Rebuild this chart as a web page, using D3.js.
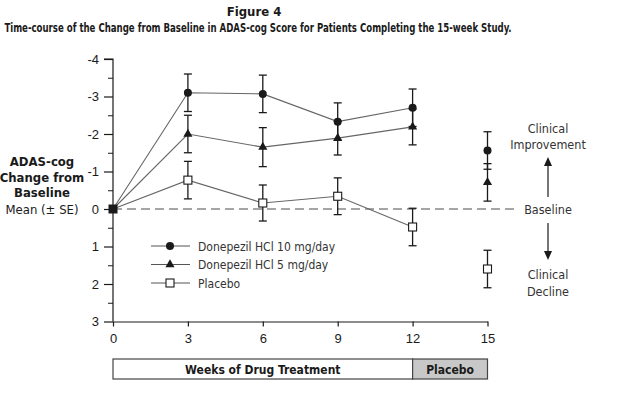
<!DOCTYPE html>
<html><head><meta charset="utf-8">
<script src="https://cdn.jsdelivr.net/npm/d3@7"></script>
<style>
body{margin:0;background:#fff;}
svg{display:block;font-family:"Liberation Sans Narrow","DejaVu Sans Condensed","Liberation Sans",sans-serif;}
</style></head><body>
<svg id="c" width="624" height="393"></svg>
<script>
const weeks = [0, 3, 6, 9, 12, 15];
const don10 = [0, -3.1, -3.07, -2.33, -2.7, -1.56];
const don10SE = [0, 0.5, 0.5, 0.5, 0.5, 0.5];
const don5 = [0, -2.0, -1.65, -1.89, -2.19, -0.71];
const don5SE = [0, 0.5, 0.52, 0.45, 0.48, 0.5];
const placebo = [0, -0.77, -0.16, -0.34, 0.48, 1.6];
const placeboSE = [0, 0.5, 0.48, 0.49, 0.5, 0.5];
const yTicks = [-4, -3, -2, -1, 0, 1, 2, 3];
const yMinor = [-3.5, -2.5, -1.5, -0.5, 0.5, 1.5, 2.5];
const seriesNames = ["Donepezil HCl 10 mg/day", "Donepezil HCl 5 mg/day", "Placebo"];
const periods = [{label: "Weeks of Drug Treatment", from: 0, to: 12}, {label: "Placebo", from: 12, to: 15}];

const svg = d3.select("#c");
const x = d3.scaleLinear().domain([0, 15]).range([113, 487.5]);
const y = d3.scaleLinear().domain([-4, 3]).range([59, 321.5]);
const ink = "#1a1a1a";

// Titles
svg.append("text").attr("x", 254).attr("y", 16).attr("text-anchor", "middle")
  .attr("font-weight", "bold").attr("font-size", 13).attr("fill", ink).text("Figure 4");
const sub = svg.append("text").attr("x", 0).attr("y", 0).attr("text-anchor", "middle")
  .attr("font-weight", "bold").attr("font-size", 12.5).attr("fill", ink)
  .text("Time-course of the Change from Baseline in ADAS-cog Score for Patients Completing the 15-week Study.");
const sw = sub.node().getComputedTextLength();
const sc = Math.min(1, 508 / sw);
sub.attr("transform", `translate(258,32) scale(${sc},1)`);

// Y axis title
const yt = [["ADAS-cog", true, 166], ["Change from", true, 181.5], ["Baseline", true, 197], ["Mean (± SE)", false, 214]];
yt.forEach(([t, b, yy]) => svg.append("text").attr("x", 42).attr("y", yy).attr("text-anchor", "middle")
  .attr("font-weight", b ? "bold" : "normal").attr("font-size", 13).attr("fill", ink).text(t));

// Baseline dashed line
svg.append("line").attr("x1", x(0)).attr("x2", 517).attr("y1", y(0)).attr("y2", y(0))
  .attr("stroke", "#888").attr("stroke-width", 1.3).attr("stroke-dasharray", "9,5");

// Axes
const yAxis = svg.append("g").attr("transform", `translate(${x(0)},0)`)
  .call(d3.axisLeft(y).tickValues(yTicks).tickSize(9).tickPadding(5).tickFormat(d => String(d)));
svg.append("g").attr("transform", `translate(${x(0)},0)`)
  .call(d3.axisLeft(y).tickValues(yMinor).tickSize(5).tickFormat(""))
  .call(g => g.select(".domain").remove());
const xAxis = svg.append("g").attr("transform", `translate(0,${y(3)})`)
  .call(d3.axisBottom(x).tickValues(weeks).tickSize(5).tickPadding(7).tickSizeOuter(0).tickFormat(d => String(d)));
[yAxis, xAxis].forEach(g => {
  g.selectAll("path,line").attr("stroke", ink).attr("stroke-width", 1.2);
  g.selectAll("text").attr("font-size", 13).attr("fill", ink).attr("font-family", null);
});
svg.selectAll(".tick line").attr("stroke", ink);
yAxis.select(".domain").attr("d", `M-9,${y(-4)}H0V${y(3)}`);

// Series
const series = [
  {vals: don10, se: don10SE, shape: "circle"},
  {vals: don5, se: don5SE, shape: "triangle"},
  {vals: placebo, se: placeboSE, shape: "square"}
];
const line = d3.line().x((d, i) => x(weeks[i])).y(d => y(d));
series.forEach(s => {
  svg.append("path").attr("d", line(s.vals.slice(0, 5))).attr("fill", "none")
    .attr("stroke", "#666").attr("stroke-width", 1.1);
});
// error bars
series.forEach(s => {
  s.vals.forEach((v, i) => {
    if (i === 0) return;
    const cx = x(weeks[i]);
    const g = svg.append("g").attr("stroke", ink).attr("stroke-width", 1.3);
    g.append("line").attr("x1", cx).attr("x2", cx).attr("y1", y(v - s.se[i])).attr("y2", y(v + s.se[i]));
    [v - s.se[i], v + s.se[i]].forEach(e => g.append("line").attr("x1", cx - 4).attr("x2", cx + 4).attr("y1", y(e)).attr("y2", y(e)));
  });
});
function marker(g, shape, cx, cy) {
  if (shape === "circle") g.append("circle").attr("cx", cx).attr("cy", cy).attr("r", 4).attr("fill", ink);
  else if (shape === "triangle") g.append("path").attr("d", d3.symbol(d3.symbolTriangle, 36)()).attr("transform", `translate(${cx},${cy})`).attr("fill", ink);
  else g.append("rect").attr("x", cx - 4).attr("y", cy - 4).attr("width", 8).attr("height", 8).attr("fill", "#fff").attr("stroke", ink).attr("stroke-width", 1.1);
}
series.forEach(s => {
  s.vals.forEach((v, i) => { if (i > 0) marker(svg, s.shape, x(weeks[i]), y(v)); });
});
svg.append("rect").attr("x", x(0) - 4.5).attr("y", y(0) - 4.5).attr("width", 9).attr("height", 9).attr("fill", ink);

// Legend
const lg = svg.append("g");
series.forEach((s, i) => {
  const yy = 246 + i * 18.5;
  lg.append("line").attr("x1", 151).attr("x2", 190).attr("y1", yy).attr("y2", yy).attr("stroke", "#555").attr("stroke-width", 1.1);
  marker(lg, s.shape, 170, yy);
  lg.append("text").attr("x", 198).attr("y", yy + 4.5).attr("font-size", 12).attr("fill", "#333").text(seriesNames[i]);
});

// Right annotations
const ann = "#333";
const at = (t, xx, yy) => svg.append("text").attr("x", xx).attr("y", yy).attr("text-anchor", "middle").attr("font-size", 12.5).attr("fill", ann).text(t);
at("Clinical", 548, 133); at("Improvement", 548, 149);
at("Baseline", 548, 214);
at("Clinical", 548, 279); at("Decline", 548, 296);
svg.append("line").attr("x1", 548).attr("x2", 548).attr("y1", 197).attr("y2", 165).attr("stroke", ink).attr("stroke-width", 1.2);
svg.append("path").attr("d", "M544,166L548,157L552,166Z").attr("fill", ink);
svg.append("line").attr("x1", 548).attr("x2", 548).attr("y1", 223).attr("y2", 252).attr("stroke", ink).attr("stroke-width", 1.2);
svg.append("path").attr("d", "M544,251L548,260L552,251Z").attr("fill", ink);

// Period bar
periods.forEach((p, i) => {
  svg.append("rect").attr("x", x(p.from)).attr("y", 359).attr("width", x(p.to) - x(p.from)).attr("height", 20)
    .attr("fill", i === 0 ? "#fff" : "#c8c8c8").attr("stroke", "#444").attr("stroke-width", 1.2);
  svg.append("text").attr("x", (x(p.from) + x(p.to)) / 2).attr("y", 374).attr("text-anchor", "middle")
    .attr("font-weight", "bold").attr("font-size", 12).attr("fill", ink).text(p.label);
});
</script></body></html>
